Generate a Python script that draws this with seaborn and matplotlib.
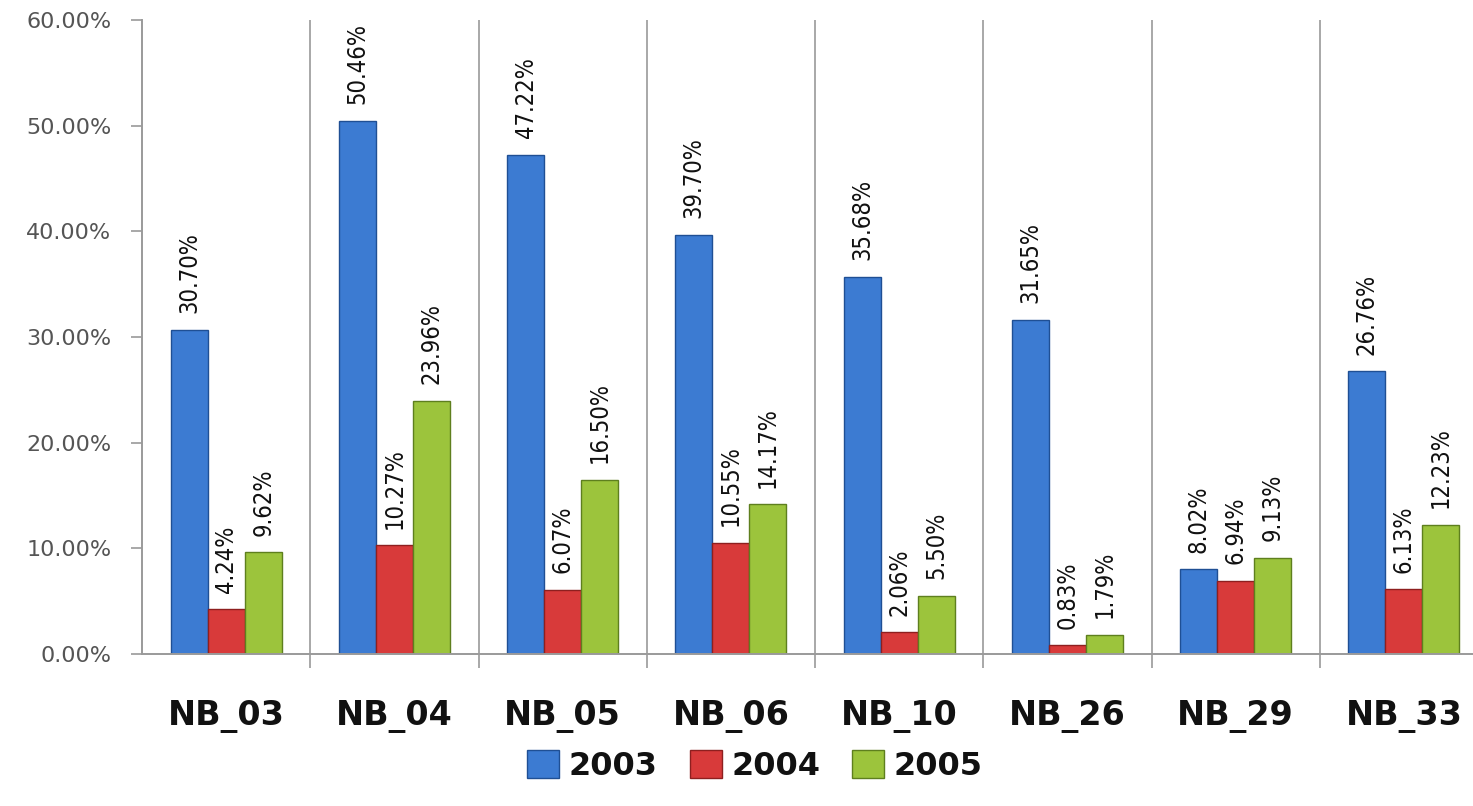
import matplotlib
matplotlib.use("Agg")
import matplotlib.pyplot as plt
import seaborn as sns
import pandas as pd
from matplotlib.patches import Patch
from matplotlib.ticker import FixedLocator, FuncFormatter

categories = ["NB_03", "NB_04", "NB_05", "NB_06", "NB_10", "NB_26", "NB_29", "NB_33"]
years = ["2003", "2004", "2005"]
v2003 = [30.70, 50.46, 47.22, 39.70, 35.68, 31.65, 8.02, 26.76]
v2004 = [4.24, 10.27, 6.07, 10.55, 2.06, 0.83, 6.94, 6.13]
v2005 = [9.62, 23.96, 16.50, 14.17, 5.50, 1.79, 9.13, 12.23]
colors = ["#3C7BD2", "#D83A3A", "#9CC43C"]
edge_colors = ["#1F4F94", "#8E1F1F", "#5E7F1E"]

rows = []
for yr, vals in zip(years, [v2003, v2004, v2005]):
    for c, v in zip(categories, vals):
        rows.append({"cat": c, "year": yr, "val": v})
df = pd.DataFrame(rows)

sns.set_theme(style="white")
plt.rcParams["font.family"] = ["DejaVu Sans"]

fig = plt.figure(figsize=(14.73, 8.06), dpi=100)
ax = fig.add_axes([142 / 1473, 152 / 806, 1346 / 1473, 634 / 806])

sns.barplot(data=df, x="cat", y="val", hue="year", order=categories,
            hue_order=years, palette=colors, width=0.66, ax=ax,
            saturation=1, legend=False, errorbar=None)

for cont, ec in zip(ax.containers, edge_colors):
    for p in cont:
        p.set_edgecolor(ec)
        p.set_linewidth(1.0)
    ax.bar_label(cont, labels=[f"{v:.2f}%" for v in cont.datavalues],
                 rotation=90, padding=12, fontsize=17, fontstretch="condensed",
                 family=["DejaVu Sans"], color="#111111")

ax.set_xlim(-0.5, len(categories) - 0.5)
ax.set_ylim(0, 60)
ax.set_yticks([0, 10, 20, 30, 40, 50, 60])
ax.yaxis.set_major_formatter(FuncFormatter(lambda v, p: f"{v:.2f}%"))
ax.set_xlabel("")
ax.set_ylabel("")

ax.xaxis.set_minor_locator(FixedLocator([i + 0.5 for i in range(len(categories) - 1)]))
ax.grid(False)
ax.grid(True, axis="x", which="minor", color="#9A9A9A", linewidth=1.2)
ax.tick_params(axis="x", which="major", length=0, pad=33, labelsize=24,
               labelcolor="#111111")
for lab in ax.get_xticklabels():
    lab.set_fontweight("bold")
ax.tick_params(axis="x", which="minor", length=10, color="#9A9A9A", width=1.2,
               direction="out", bottom=True)
ax.tick_params(axis="y", which="major", length=8, color="#9A9A9A", width=1.2,
               left=True, pad=14, labelsize=16, labelcolor="#555555")

for s in ["top", "right"]:
    ax.spines[s].set_visible(False)
for s in ["left", "bottom"]:
    ax.spines[s].set_color("#9A9A9A")
    ax.spines[s].set_linewidth(1.4)

handles = [Patch(facecolor=c, edgecolor=ec, label=y) for c, ec, y in zip(colors, edge_colors, years)]
leg = fig.legend(handles=handles, loc="center", bbox_to_anchor=(755 / 1473, 40 / 806),
                 ncol=3, frameon=False, handlelength=1.0, handleheight=0.95,
                 handletextpad=0.3, columnspacing=1.0,
                 prop={"size": 23, "weight": "bold"})
for t in leg.get_texts():
    t.set_color("#111111")

fig.savefig("out.png", dpi=100)
